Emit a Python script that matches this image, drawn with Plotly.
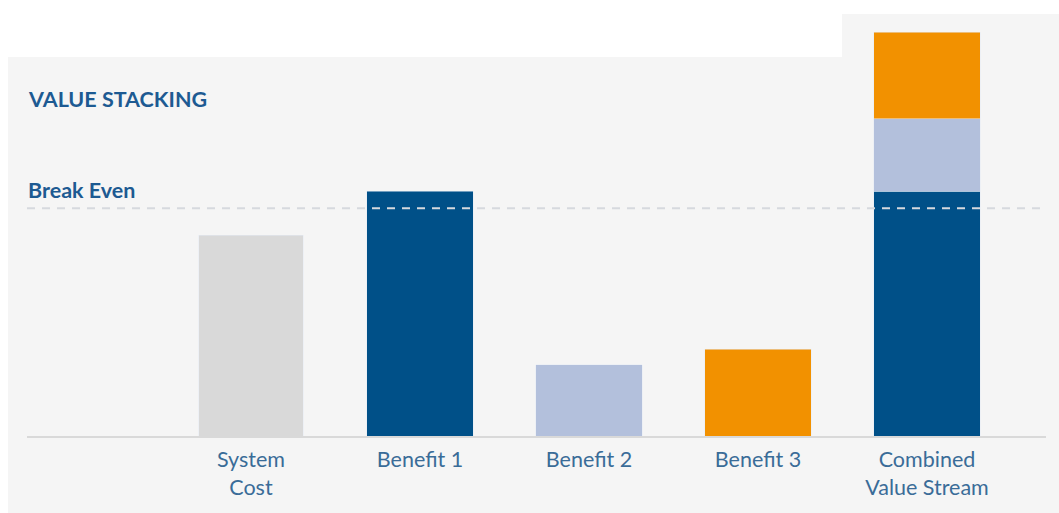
import plotly.graph_objects as go

# ---- data ----
categories = ["System<br>Cost", "Benefit 1", "Benefit 2", "Benefit 3", "Combined<br>Value Stream"]
system_cost = [82, None, None, None, None]
benefit1 = [None, 100, None, None, 100]
benefit2 = [None, None, 29, None, 29.4]
benefit3 = [None, None, None, 35.5, 35.5]
break_even = 93

# ---- geometry (pixels) ----
W, H = 1059, 513
L, R, T, B = 27, 13, 14, 77
pw, ph = W - L - R, H - T - B

def px(x):
    return (x - L) / pw

def py(y):
    return (H - B - y) / ph

BG = "#f5f5f5"
DARK = "#005088"
LIGHT = "#b3c0dc"
ORANGE = "#f29100"
GREY = "#d9d9d9"
TITLE = "#1d5a92"
LABEL = "#3a6c98"

xs = list(range(len(categories)))

fig = go.Figure()
fig.add_bar(x=xs, y=system_cost, marker_color=GREY, width=0.62, hoverinfo="skip")
fig.add_bar(x=xs, y=benefit1, marker_color=DARK, width=0.63, hoverinfo="skip")
fig.add_bar(x=xs, y=benefit2, marker_color=LIGHT, width=0.63, hoverinfo="skip")
fig.add_bar(x=xs, y=benefit3, marker_color=ORANGE, width=0.63, hoverinfo="skip")

shapes = [
    dict(type="rect", xref="paper", yref="paper", x0=px(8), x1=px(842), y0=py(513), y1=py(57),
         fillcolor=BG, line_width=0, layer="below"),
    dict(type="rect", xref="paper", yref="paper", x0=px(842), x1=px(1059), y0=py(513), y1=py(14),
         fillcolor=BG, line_width=0, layer="below"),
    dict(type="line", xref="paper", yref="y", x0=0, x1=1, y0=break_even, y1=break_even,
         line=dict(color="#d6d9de", width=2, dash="8px,7px"), layer="above"),
]

fig.update_layout(
    width=W, height=H,
    margin=dict(l=L, r=R, t=T, b=B, pad=0),
    paper_bgcolor="white",
    plot_bgcolor="rgba(0,0,0,0)",
    barmode="stack",
    showlegend=False,
    shapes=shapes,
    font=dict(family="Lato", color=LABEL),
    xaxis=dict(
        tickmode="array", tickvals=xs, ticktext=categories,
        range=[-1.325, 4.704], showgrid=False, zeroline=False,
        showline=True, linecolor=GREY, linewidth=2, ticks="",
        ticklabelstandoff=3,
        tickfont=dict(family="Lato", size=21.5, color=LABEL),
        fixedrange=True,
    ),
    yaxis=dict(
        range=[0, (H - B - T) / 2.45], showgrid=False, zeroline=False,
        showticklabels=False, showline=False, fixedrange=True,
    ),
    annotations=[
        dict(text="<b>VALUE STACKING</b>", xref="paper", yref="paper", x=px(26), y=py(99),
             xanchor="left", yanchor="middle", showarrow=False,
             font=dict(family="Lato", size=21.5, color=TITLE)),
        dict(text="<b>Break Even</b>", xref="paper", yref="paper", x=px(26), y=py(190),
             xanchor="left", yanchor="middle", showarrow=False,
             font=dict(family="Lato", size=21.5, color=TITLE)),
    ],
)

fig.write_html(
    "out.html",
    config=dict(displayModeBar=False),
    post_script="document.body.style.margin='0px';document.body.style.overflow='hidden';",
)
